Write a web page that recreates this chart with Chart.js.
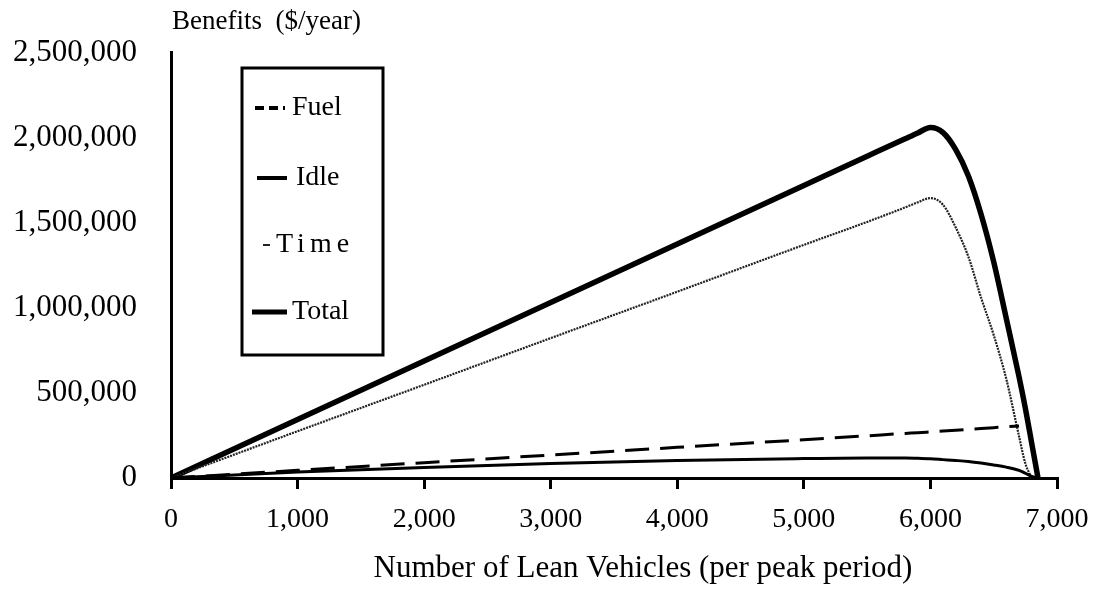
<!DOCTYPE html>
<html>
<head>
<meta charset="utf-8">
<title>Benefits of Lean Vehicles</title>
<script src="https://cdn.jsdelivr.net/npm/chart.js@4"></script>
<style>
  html, body { margin: 0; padding: 0; background: #fff; }
  #wrap { width: 1095px; height: 592px; }
</style>
</head>
<body>
<div id="wrap"><canvas id="LeanBenefits"></canvas></div>
<script>
// Number of lean vehicles (per peak period)
const vehicles = [0, 1000, 2000, 3000, 4000, 5000, 5500, 5800, 5900, 6000, 6100, 6200, 6300, 6400, 6500, 6600, 6700, 6750, 6800, 6850];

// Benefits ($/year) at each vehicle count
const fuel  = [0, 45000, 90000, 135000, 180000, 225000, 248000, 262000, 266000, 271000, 276000, 281000, 286000, 291000, 296000, 301000, 305000, null, null, null];
const idle  = [0, 35000, 62000, 85000, 103000, 114000, 118000, 118000, 116000, 113000, 108000, 103000, 97000, 88000, 77000, 64000, 45000, 28000, 10000, 0];
const time  = [0, 275000, 548000, 822000, 1095000, 1370000, 1505000, 1590000, 1620000, 1645000, 1605000, 1472000, 1300000, 1060000, 840000, 580000, 245000, 85000, 0, null];
const total = [0, 344000, 688000, 1031000, 1375000, 1719000, 1891000, 1994000, 2028000, 2060000, 2030000, 1930000, 1775000, 1550000, 1270000, 935000, 595000, 410000, 205000, 0];

const seriesNames = ["Fuel", "Idle", "Time", "Total"];

const serif = "'Liberation Serif', 'Times New Roman', serif";

function toPoints(values) {
    return vehicles.map((v, i) => ({ x: v, y: values[i] }));
}

// Boxed legend inside the plot, plus the two axis captions
const boxLegend = {
    id: 'boxLegend',
    afterDraw(chart) {
        const ctx = chart.ctx;
        const a = chart.chartArea;
        const left = a.left + 71, top = 68, w = 141, h = 287;
        ctx.save();
        ctx.strokeStyle = '#000';
        ctx.lineWidth = 3;
        ctx.strokeRect(left, top, w, h);

        const rows = [
            { y: 108, x1: 255, x2: 285, tx: 292, spacing: '0px' },
            { y: 178, x1: 257, x2: 287, tx: 296, spacing: '0px' },
            { y: 245, x1: 263, x2: 270, tx: 276, spacing: '5px' },
            { y: 312, x1: 252, x2: 287, tx: 292, spacing: '0px' }
        ];
        chart.data.datasets.forEach((ds, i) => {
            const r = rows[i];
            ctx.beginPath();
            ctx.strokeStyle = ds.borderColor;
            ctx.lineWidth = ds.legendWidth;
            ctx.setLineDash(ds.legendDash);
            ctx.moveTo(r.x1, r.y);
            ctx.lineTo(r.x2, r.y);
            ctx.stroke();
            ctx.setLineDash([]);
            ctx.fillStyle = '#000';
            ctx.font = '28px ' + serif;
            ctx.textBaseline = 'middle';
            ctx.letterSpacing = r.spacing;
            ctx.fillText(seriesNames[i], r.tx, r.y);
        });
        ctx.letterSpacing = '0px';

        // y caption above the axis
        ctx.font = '27px ' + serif;
        ctx.textBaseline = 'middle';
        ctx.textAlign = 'left';
        ctx.fillText('Benefits  ($/year)', a.left + 1, 22);

        // x caption, sitting a little right of centre
        ctx.font = '31px ' + serif;
        ctx.textAlign = 'center';
        ctx.fillText('Number of Lean Vehicles (per peak period)', a.left + 472, 569);
        ctx.restore();
    }
};

new Chart("LeanBenefits", {
    type: "line",
    data: {
        datasets: [{
            label: seriesNames[0],
            data: toPoints(fuel),
            borderColor: "#000",
            borderWidth: 3,
            borderDash: [24, 11],
            legendWidth: 4,
            legendDash: [9, 5]
        }, {
            label: seriesNames[1],
            data: toPoints(idle),
            borderColor: "#000",
            borderWidth: 3,
            legendWidth: 4,
            legendDash: []
        }, {
            label: seriesNames[2],
            data: toPoints(time),
            borderColor: "#222",
            borderWidth: 2.2,
            borderDash: [2, 1],
            legendWidth: 2,
            legendDash: []
        }, {
            label: seriesNames[3],
            data: toPoints(total),
            borderColor: "#000",
            borderWidth: 5.5,
            legendWidth: 5,
            legendDash: []
        }]
    },
    options: {
        animation: false,
        responsive: true,
        maintainAspectRatio: false,
        elements: {
            point: { radius: 0 },
            line: { tension: 0.4, cubicInterpolationMode: 'monotone', fill: false }
        },
        layout: {
            padding: { left: 0, top: 50, right: 38, bottom: 0 }
        },
        plugins: {
            legend: { display: false },
            tooltip: { enabled: false }
        },
        scales: {
            x: {
                type: 'linear',
                min: 0,
                max: 7000,
                afterFit(scale) {
                    scale.height = 114;
                    // let the last tick label hang into the right margin
                    scale.paddingLeft = 0;
                    scale.paddingRight = 0;
                },
                border: { display: true, color: '#000', width: 3 },
                grid: {
                    display: true,
                    drawOnChartArea: false,
                    drawTicks: true,
                    tickLength: 11,
                    color: '#000',
                    lineWidth: 3
                },
                ticks: {
                    stepSize: 1000,
                    color: '#000',
                    padding: 14,
                    maxRotation: 0,
                    font: { family: serif, size: 28 }
                }
            },
            y: {
                min: 0,
                max: 2500000,
                afterFit(scale) { scale.width = 171; },
                border: { display: true, color: '#000', width: 3 },
                grid: { display: true, drawOnChartArea: false, drawTicks: false },
                ticks: {
                    stepSize: 500000,
                    color: '#000',
                    padding: 34,
                    font: { family: serif, size: 31 }
                }
            }
        }
    },
    plugins: [boxLegend]
});
</script>
</body>
</html>
